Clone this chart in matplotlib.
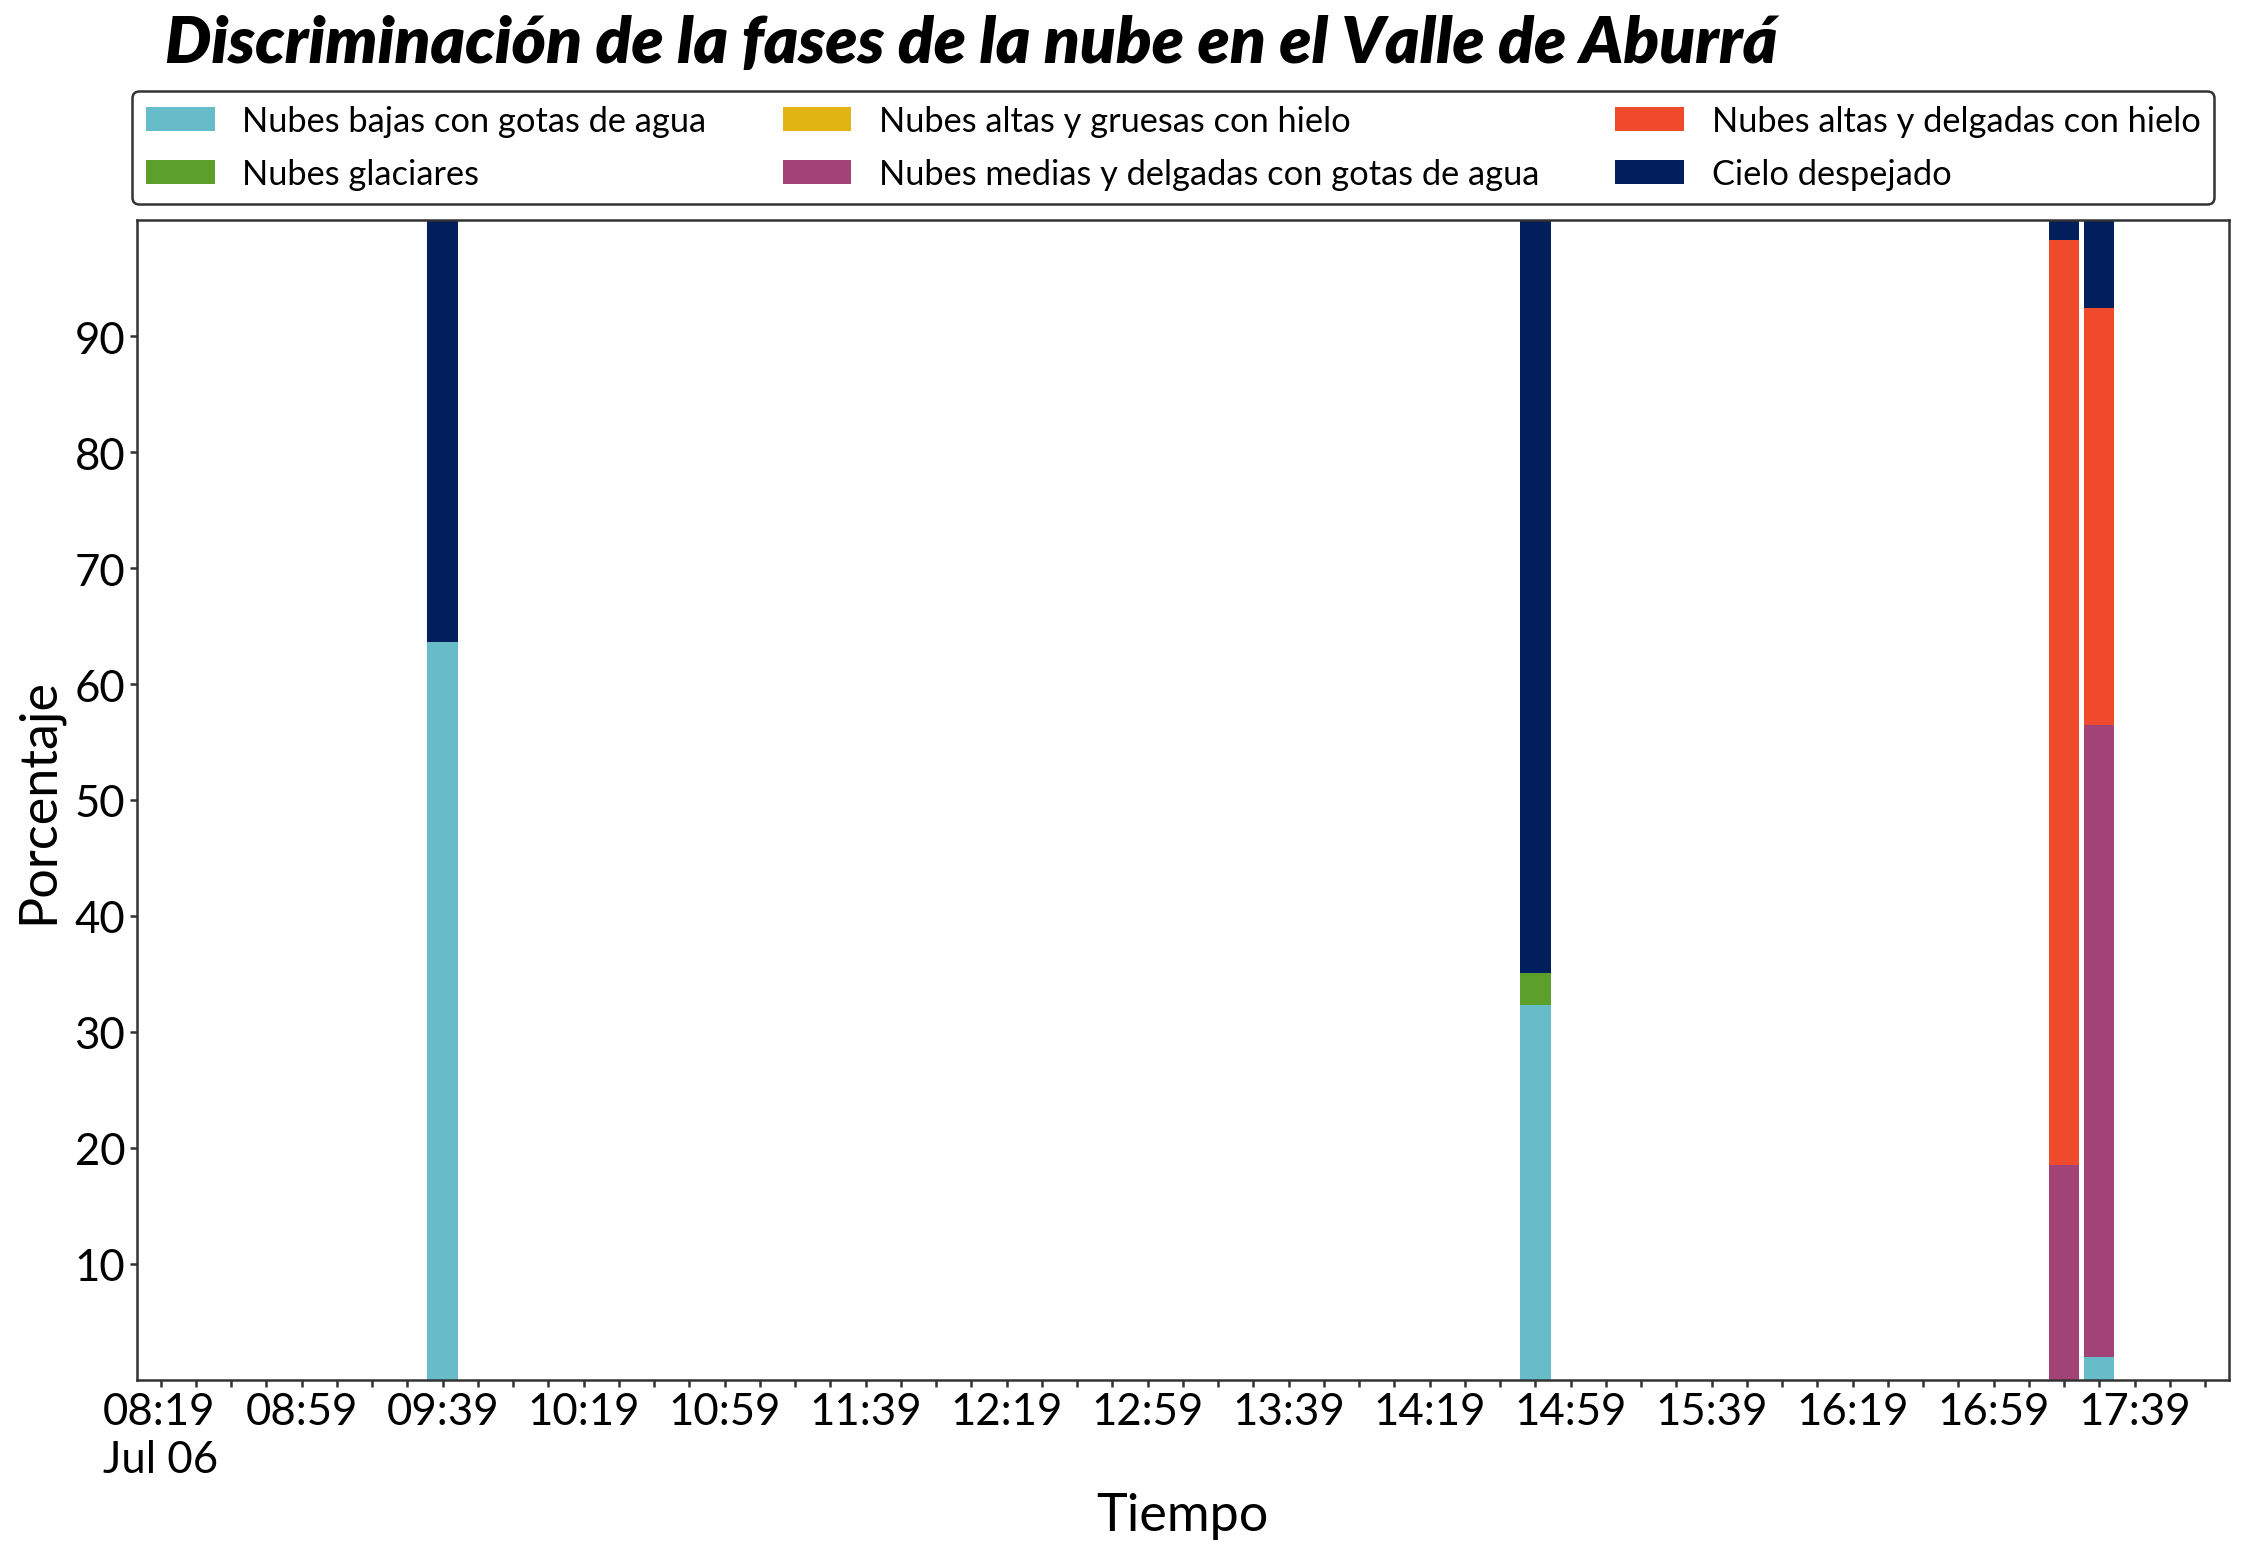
import matplotlib.pyplot as plt
import matplotlib.dates as mdates
import numpy as np
from datetime import datetime, timedelta

plt.rcParams['font.family'] = ['Lato', 'DejaVu Sans']

# Datos (porcentaje por categoria en cada instante)
day = datetime(2023, 7, 6)
times = ['09:39', '14:49', '17:19', '17:29']
bajas_agua = [63.6, 32.3, 0.0, 2.0]
glaciares = [0.0, 2.8, 0.0, 0.0]
altas_gruesas_hielo = [0.0, 0.0, 0.0, 0.0]
medias_delgadas_agua = [0.0, 0.0, 18.5, 54.5]
altas_delgadas_hielo = [0.0, 0.0, 79.8, 35.9]
despejado = [36.4, 64.9, 1.7, 7.6]

labels = ['Nubes bajas con gotas de agua', 'Nubes glaciares',
          'Nubes altas y gruesas con hielo', 'Nubes medias y delgadas con gotas de agua',
          'Nubes altas y delgadas con hielo', 'Cielo despejado']
colors = ['#66BDC9', '#5C9F2A', '#E1B313', '#A14377', '#EF4A2B', '#021F5D']
series = [bajas_agua, glaciares, altas_gruesas_hielo, medias_delgadas_agua,
          altas_delgadas_hielo, despejado]

tick_start = '08:19'
tick_end = '17:59'
yticks = [10, 20, 30, 40, 50, 60, 70, 80, 90]


def to_dt(hm):
    h, m = hm.split(':')
    return day + timedelta(hours=int(h), minutes=int(m))


x = [to_dt(t) for t in times]

fig = plt.figure(figsize=(14.96, 10.393), dpi=150)
ax = fig.add_axes([0.0609, 0.1142, 0.9324, 0.744])

bottom = np.zeros(len(x))
for vals, lab, col in zip(series, labels, colors):
    vals = np.array(vals)
    ax.bar(x, vals, width=0.006, bottom=bottom, color=col, label=lab)
    bottom += vals

# ticks cada 10 minutos, etiqueta cada 40
t0 = to_dt(tick_start)
t1 = to_dt(tick_end)
ticks = []
t = t0
while t <= t1:
    ticks.append(t)
    t += timedelta(minutes=10)
tick_labels = []
for i, t in enumerate(ticks):
    if i % 4 == 0:
        s = t.strftime('%H:%M')
        if i == 0:
            s += '\n' + t.strftime('%b %d')
        tick_labels.append(s)
    else:
        tick_labels.append('')
ax.set_xticks(mdates.date2num(ticks))
ax.set_xticklabels(tick_labels, ha='center', multialignment='left')
ax.set_xlim(mdates.date2num(t0 - timedelta(minutes=6.8)),
            mdates.date2num(t1 + timedelta(minutes=6.8)))

ax.set_ylim(0, 100)
ax.set_yticks(yticks)
ax.tick_params(labelsize=21, color='#333333', length=3.5, width=1.2, pad=2)
for sp in ax.spines.values():
    sp.set_color('#333333')
    sp.set_linewidth(1.2)

ax.set_xlabel('Tiempo', fontsize=25, labelpad=6)
ax.set_ylabel('Porcentaje', fontsize=25, labelpad=6)

leg = ax.legend(ncol=3, loc='lower left', bbox_to_anchor=(-0.002, 1.014, 0.995, 0.1),
                mode='expand', fontsize=16.5, frameon=True, fancybox=True,
                handlelength=2.0, borderaxespad=0, edgecolor='#333333',
                labelspacing=0.62)
leg.get_frame().set_linewidth(1.2)
leg.get_frame().set_alpha(1)

fig.text(0.0735, 0.972, 'Discriminación de la fases de la nube en el Valle de Aburrá',
         fontsize=31.4, fontweight='heavy', fontstyle='italic', ha='left', va='center')

fig.savefig('out.png', dpi=150)
